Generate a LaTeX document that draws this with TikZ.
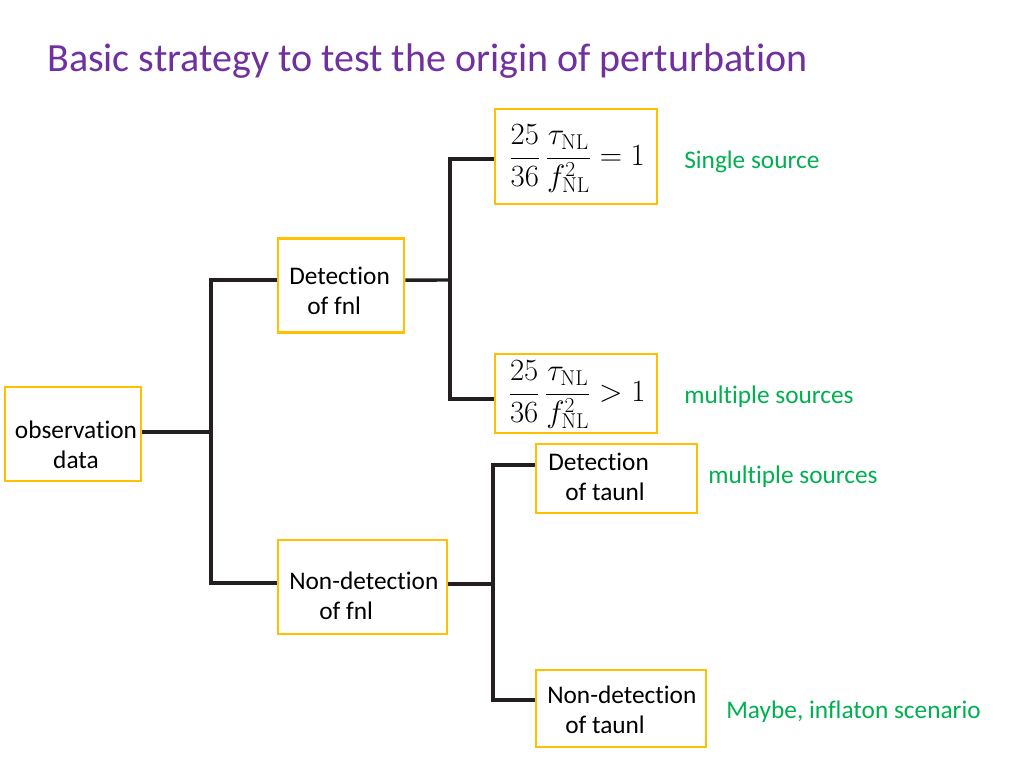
\documentclass[tikz,border=0pt]{standalone}
\usepackage[no-math]{fontspec}
\usepackage{graphicx}
\setmainfont{Carlito}[Ligatures=NoCommon]
\definecolor{gold}{HTML}{FFC000}
\definecolor{conncol}{HTML}{231F20}
\definecolor{titlecol}{HTML}{7030A0}
\definecolor{greencol}{HTML}{00B050}
\begin{document}
\begin{tikzpicture}[x=0.75pt,y=-0.75pt,
  box/.style={draw=gold,line width=2.2pt,fill=white,inner sep=0pt},
  txt/.style={align=left,anchor=west,inner sep=0pt,font=\fontsize{19}{22.5}\selectfont},
  ctxt/.style={align=center,inner sep=0pt,font=\fontsize{19}{22.5}\selectfont},
  note/.style={anchor=west,inner sep=0pt,text=greencol,font=\fontsize{19}{22.5}\selectfont},
  conn/.style={draw=conncol,line width=2.6pt},
  mth/.style={inner sep=0pt,font=\fontsize{24}{28}\selectfont}]
\useasboundingbox (0,0) rectangle (1024,768);
% title
\node[anchor=west,inner sep=0pt,text=titlecol,font=\fontsize{30}{36}\selectfont] (title) at (47,61) {Basic strategy to test the origin of perturbation};
% boxes
\node[box,minimum width=102pt,minimum height=70.5pt] (obs) at (73,434) {};
\node[box,minimum width=94.5pt,minimum height=70pt] (dfnl) at (341,285.5) {};
\node[box,minimum width=126.75pt,minimum height=70.5pt] (nfnl) at (362.5,587) {};
\node[box,minimum width=121.5pt,minimum height=71.25pt] (m1) at (576,156.5) {};
\node[box,minimum width=121.5pt,minimum height=59.25pt] (m2) at (576,393.5) {};
\node[box,minimum width=120.75pt,minimum height=51.75pt] (dtau) at (616.5,478.5) {};
\node[box,minimum width=127.5pt,minimum height=57.75pt] (ntau) at (621,708.5) {};
% texts
\node[ctxt] (obs-t) at (76,445) {observation\\data};
\node[txt] (dfnl-t) at (289,291) {Detection\\\hspace*{13.5pt}of fnl};
\node[txt] (nfnl-t) at (289,596) {Non-detection\\\hspace*{22.5pt}of fnl};
\node[txt] (dtau-t) at (548,477) {Detection\\\hspace*{12.75pt}of taunl};
\node[txt] (ntau-t) at (547,710) {Non-detection\\\hspace*{13.5pt}of taunl};
\node[mth] (m1-t) at (577,159) {\scalebox{0.93}{$\displaystyle \frac{25}{36}\,\frac{\tau_{\mathrm{NL}}}{f_{\mathrm{NL}}^2} = 1$}};
\node[mth] (m2-t) at (577,395) {\scalebox{0.93}{$\displaystyle \frac{25}{36}\,\frac{\tau_{\mathrm{NL}}}{f_{\mathrm{NL}}^2} > 1$}};
% notes
\node[note] (n1) at (684,162) {Single source};
\node[note] (n2) at (684,397) {multiple sources};
\node[note] (n3) at (708,477) {multiple sources};
\node[note] (n4) at (726,712) {Maybe, inflaton scenario};
% joints
\coordinate (j1) at (211,432);
\coordinate (j2) at (450,280);
\coordinate (j3) at (493,584);
% connectors
\draw[conn] ([yshift=1.5pt]obs.east) -- (j1);
\draw[conn] (j1) |- ([yshift=4.1pt]dfnl.west);
\draw[conn] (j1) |- ([yshift=3pt]nfnl.west);
\draw[conn] ([yshift=4.1pt]dfnl.east) -- (j2);
\draw[conn] (j2) |- ([yshift=-1.9pt]m1.west);
\draw[conn] (j2) |- ([yshift=-4.1pt]m2.west);
\draw[conn] ([yshift=2.25pt]nfnl.east) -- (j3);
\draw[conn] (j3) |- ([yshift=10.1pt]dtau.west);
\draw[conn] (j3) |- ([yshift=6.4pt]ntau.west);
\end{tikzpicture}
\end{document}
